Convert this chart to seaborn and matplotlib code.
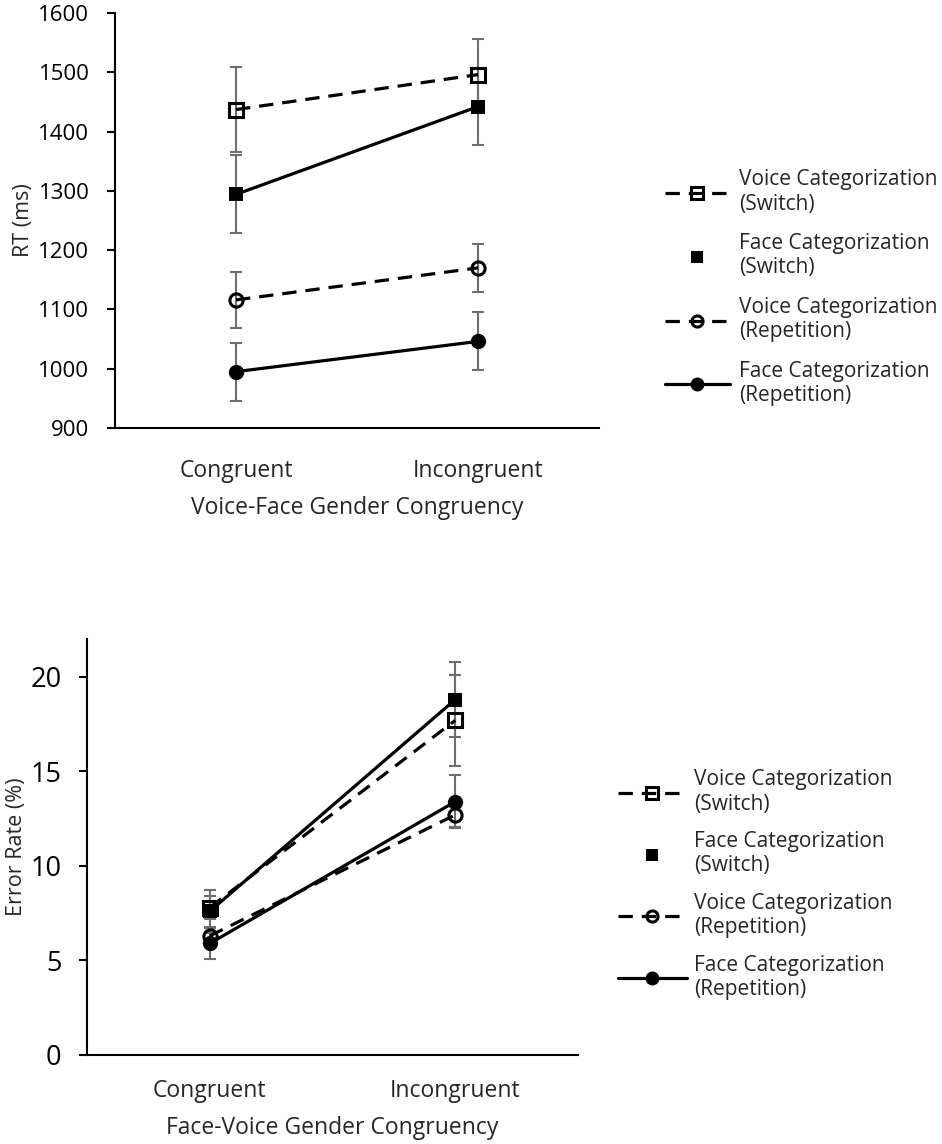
### RT and error rate by congruency, task and switch/repetition ###
import matplotlib
matplotlib.use("Agg")
import matplotlib.pyplot as plt
from matplotlib.lines import Line2D
import seaborn as sns
import numpy as np
import pandas as pd

# data
conditions = ["Congruent", "Incongruent"]
series_names = ["Voice Categorization\n(Switch)", "Face Categorization\n(Switch)",
                "Voice Categorization\n(Repetition)", "Face Categorization\n(Repetition)"]

rt_voice_switch = [1437, 1496]
rt_face_switch = [1294, 1442]
rt_voice_rep = [1116, 1170]
rt_face_rep = [995, 1046]
rt_err_voice_switch = [71, 60]
rt_err_face_switch = [66, 65]
rt_err_voice_rep = [47, 41]
rt_err_face_rep = [49, 49]

er_voice_switch = [7.8, 17.7]
er_face_switch = [7.6, 18.8]
er_voice_rep = [6.3, 12.7]
er_face_rep = [5.9, 13.4]
er_err_voice_switch = [0.6, 2.4]
er_err_face_switch = [1.15, 2.0]
er_err_voice_rep = [0.45, 0.65]
er_err_face_rep = [0.8, 1.4]

sns.set_style("white")
plt.rcParams["font.family"] = ["Open Sans", "DejaVu Sans"]
plt.rcParams["font.size"] = 15

DASH = (0, (4.5, 2.8))
styles = [
    dict(marker="s", ls=DASH, mfc="white", ms=9.5, mew=2.2, fillstyle="none"),
    dict(marker="s", ls="-", mfc="black", ms=9.5, mew=0),
    dict(marker="o", ls=DASH, mfc="white", ms=9.5, mew=2.2, fillstyle="none"),
    dict(marker="o", ls="-", mfc="black", ms=11, mew=0),
]


def draw_panel(ax, values, errors, ylim, yticks, ylabel, xlabel,
               ytick_size, ylabel_size, ylabel_pad, xtick_pad):
    x = np.arange(len(conditions))
    for v, e in zip(values, errors):
        ax.errorbar(x, v, yerr=e, fmt="none", ecolor="#6e6e6e", elinewidth=1.5,
                    capsize=4.5, capthick=1.5, zorder=2)
    for v, name, st in zip(values, series_names, styles):
        df = pd.DataFrame({"x": x, "y": v})
        st = dict(st)
        ls = st.pop("ls")
        sns.lineplot(data=df, x="x", y="y", ax=ax, color="black", linewidth=2.3,
                     linestyle=ls, markeredgecolor="black", zorder=3, **st)
    ax.set_xlim(-0.5, 1.5)
    ax.set_ylim(*ylim)
    ax.set_yticks(yticks)
    ax.set_xticks(x)
    ax.set_xticklabels(conditions)
    ax.set_ylabel(ylabel, labelpad=ylabel_pad, fontsize=ylabel_size)
    ax.set_xlabel(xlabel, labelpad=9.5, fontsize=16.5)
    for s in ["top", "right"]:
        ax.spines[s].set_visible(False)
    for s in ["left", "bottom"]:
        ax.spines[s].set_color("black")
        ax.spines[s].set_linewidth(1.5)
    ax.tick_params(axis="y", direction="out", length=5.5, width=1.5, pad=13,
                   left=True, colors="black", labelsize=ytick_size)
    ax.tick_params(axis="x", length=0, pad=xtick_pad, labelsize=16.5)
    ax.grid(False)


def legend_handles():
    h = []
    for i, st in enumerate(styles):
        st = dict(st)
        ls = st.pop("ls")
        if i == 1:
            ls = "none"
            st["ms"] = 8
        elif i == 3:
            st["ms"] = 10
        else:
            st["ms"] = 8
        h.append(Line2D([0], [0], color="black", linewidth=2.3, linestyle=ls,
                        markeredgecolor="black", **st))
    return h


fig = plt.figure(figsize=(9.42, 11.44), dpi=100)
ax1 = fig.add_axes([0.1221, 0.6259, 0.5138, 0.3628])
ax2 = fig.add_axes([0.0924, 0.0778, 0.5212, 0.3636])

draw_panel(ax1, [rt_voice_switch, rt_face_switch, rt_voice_rep, rt_face_rep],
           [rt_err_voice_switch, rt_err_face_switch, rt_err_voice_rep, rt_err_face_rep],
           (900, 1600), np.arange(900, 1601, 100), "RT (ms)",
           "Voice-Face Gender Congruency", 16, 15.5, 3, 22)
draw_panel(ax2, [er_voice_switch, er_face_switch, er_voice_rep, er_face_rep],
           [er_err_voice_switch, er_err_face_switch, er_err_voice_rep, er_err_face_rep],
           (0, 22), [0, 5, 10, 15, 20], "Error Rate (%)",
           "Face-Voice Gender Congruency", 19.5, 15.5, 2, 17)

fig.legend(legend_handles(), series_names, loc="upper left",
           bbox_to_anchor=(0.706, 0.852), frameon=False, handlelength=3.1,
           handletextpad=0.45, labelspacing=0.9, borderpad=0, borderaxespad=0)
fig.legend(legend_handles(), series_names, loc="upper left",
           bbox_to_anchor=(0.656, 0.3275), frameon=False, handlelength=3.3,
           handletextpad=0.35, labelspacing=0.8, borderpad=0, borderaxespad=0)

fig.savefig("out.png", dpi=100, facecolor="white")
